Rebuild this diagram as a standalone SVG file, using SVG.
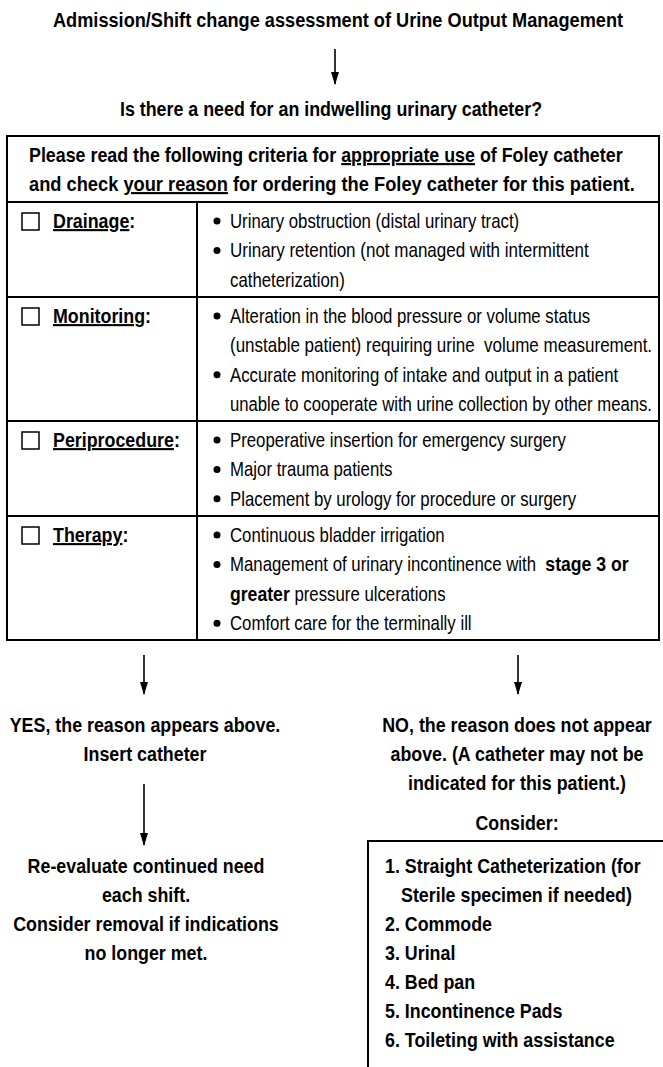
<svg xmlns="http://www.w3.org/2000/svg" width="663" height="1067" viewBox="0 0 663 1067">
<style>
.b{font-family:"Liberation Sans",Arial,sans-serif;font-weight:bold;font-size:21px;fill:#000}
.r{font-family:"Liberation Sans",Arial,sans-serif;font-size:20px;fill:#000}
.rb{font-weight:bold;font-size:21px}
.u{text-decoration:underline}
.m{text-anchor:middle}
.ln{stroke:#000;stroke-width:2;fill:none}
.cn{stroke:#000;stroke-width:1.6;fill:none;marker-end:url(#ah)}
.cb{fill:#fff;stroke:#000;stroke-width:1.5}
</style>
<defs>
<marker id="ah" markerWidth="13" markerHeight="8" refX="12" refY="4" orient="auto" markerUnits="userSpaceOnUse">
<path d="M0,0 L13,4 L0,8 z" fill="#000"/>
</marker>
</defs>
<rect width="663" height="1067" fill="#fff"/>

<g id="title">
<text class="b m" transform="translate(338,27) scale(0.865,1)">Admission/Shift change assessment of Urine Output Management</text>
</g>

<g id="question">
<text class="b m" transform="translate(331,116) scale(0.85,1)">Is there a need for an indwelling urinary catheter?</text>
</g>

<g id="criteria-table">
<rect class="ln" x="7" y="136" width="652" height="504"/>
<line class="ln" x1="7" y1="202" x2="659" y2="202"/>
<line class="ln" x1="7" y1="297" x2="659" y2="297"/>
<line class="ln" x1="7" y1="421" x2="659" y2="421"/>
<line class="ln" x1="7" y1="516" x2="659" y2="516"/>
<line class="ln" x1="197" y1="202" x2="197" y2="640"/>
<text class="b" transform="translate(29,162) scale(0.85,1)">Please read the following criteria for <tspan class="u">appropriate use</tspan> of Foley catheter</text>
<text class="b" transform="translate(29,191) scale(0.87,1)">and check <tspan class="u">your reason</tspan> for ordering the Foley catheter for this patient.</text>

<rect class="cb" x="22" y="213" width="17" height="17"/>
<text class="b" transform="translate(53,228) scale(0.85,1)"><tspan class="u">Drainage</tspan>:</text>
<rect class="cb" x="22" y="308" width="17" height="17"/>
<text class="b" transform="translate(53,323) scale(0.85,1)"><tspan class="u">Monitoring</tspan>:</text>
<rect class="cb" x="22" y="432" width="17" height="17"/>
<text class="b" transform="translate(53,447) scale(0.85,1)"><tspan class="u">Periprocedure</tspan>:</text>
<rect class="cb" x="22" y="527" width="17" height="17"/>
<text class="b" transform="translate(53,542) scale(0.85,1)"><tspan class="u">Therapy</tspan>:</text>

<circle cx="217" cy="221" r="3.5"/>
<text class="r" transform="translate(230,228) scale(0.84,1)">Urinary obstruction (distal urinary tract)</text>
<circle cx="217" cy="250.4" r="3.5"/>
<text class="r" transform="translate(230,257.4) scale(0.85,1)">Urinary retention (not managed with intermittent</text>
<text class="r" transform="translate(230,286.8) scale(0.84,1)">catheterization)</text>

<circle cx="217" cy="316" r="3.5"/>
<text class="r" transform="translate(230,323) scale(0.84,1)">Alteration in the blood pressure or volume status</text>
<text class="r" transform="translate(230,352.4) scale(0.85,1)" xml:space="preserve">(unstable patient) requiring urine  volume measurement.</text>
<circle cx="217" cy="374.8" r="3.5"/>
<text class="r" transform="translate(230,381.8) scale(0.84,1)">Accurate monitoring of intake and output in a patient</text>
<text class="r" transform="translate(230,411.2) scale(0.835,1)">unable to cooperate with urine collection by other means.</text>

<circle cx="217" cy="440" r="3.5"/>
<text class="r" transform="translate(230,447) scale(0.84,1)">Preoperative insertion for emergency surgery</text>
<circle cx="217" cy="469.4" r="3.5"/>
<text class="r" transform="translate(230,476.4) scale(0.84,1)">Major trauma patients</text>
<circle cx="217" cy="498.8" r="3.5"/>
<text class="r" transform="translate(230,505.8) scale(0.84,1)">Placement by urology for procedure or surgery</text>

<circle cx="217" cy="535" r="3.5"/>
<text class="r" transform="translate(230,542) scale(0.84,1)">Continuous bladder irrigation</text>
<circle cx="217" cy="564.4" r="3.5"/>
<text class="r" transform="translate(230,571.4) scale(0.84,1)" xml:space="preserve">Management of urinary incontinence with  <tspan class="rb">stage 3 or</tspan></text>
<text class="r" transform="translate(230,600.8) scale(0.84,1)"><tspan class="rb">greater</tspan> pressure ulcerations</text>
<circle cx="217" cy="623.2" r="3.5"/>
<text class="r" transform="translate(230,630.2) scale(0.84,1)">Comfort care for the terminally ill</text>
</g>

<g id="yes">
<text class="b m" transform="translate(145,732) scale(0.85,1)">YES, the reason appears above.</text>
<text class="b m" transform="translate(145,761) scale(0.85,1)">Insert catheter</text>
</g>

<g id="no">
<text class="b m" transform="translate(517,732) scale(0.85,1)">NO, the reason does not appear</text>
<text class="b m" transform="translate(517,761) scale(0.85,1)">above. (A catheter may not be</text>
<text class="b m" transform="translate(517,790) scale(0.85,1)">indicated for this patient.)</text>
<text class="b m" transform="translate(517,830) scale(0.85,1)">Consider:</text>
</g>

<g id="reevaluate">
<text class="b m" transform="translate(146,873) scale(0.85,1)">Re-evaluate continued need</text>
<text class="b m" transform="translate(146,902) scale(0.85,1)">each shift.</text>
<text class="b m" transform="translate(146,931) scale(0.85,1)">Consider removal if indications</text>
<text class="b m" transform="translate(146,960) scale(0.85,1)">no longer met.</text>
</g>

<g id="alternatives">
<rect class="ln" x="368" y="841" width="400" height="300"/>
<text class="b" transform="translate(385,873) scale(0.85,1)">1. Straight Catheterization (for</text>
<text class="b" transform="translate(401,902) scale(0.85,1)">Sterile specimen if needed)</text>
<text class="b" transform="translate(385,931) scale(0.85,1)">2. Commode</text>
<text class="b" transform="translate(385,960) scale(0.85,1)">3. Urinal</text>
<text class="b" transform="translate(385,989) scale(0.85,1)">4. Bed pan</text>
<text class="b" transform="translate(385,1018) scale(0.85,1)">5. Incontinence Pads</text>
<text class="b" transform="translate(385,1047) scale(0.85,1)">6. Toileting with assistance</text>
</g>

<g id="connectors">
<line class="cn" x1="335" y1="49" x2="335" y2="84"/>
<line class="cn" x1="144" y1="655" x2="144" y2="694"/>
<line class="cn" x1="518" y1="655" x2="518" y2="694"/>
<line class="cn" x1="144" y1="784" x2="144" y2="845"/>
</g>
</svg>
